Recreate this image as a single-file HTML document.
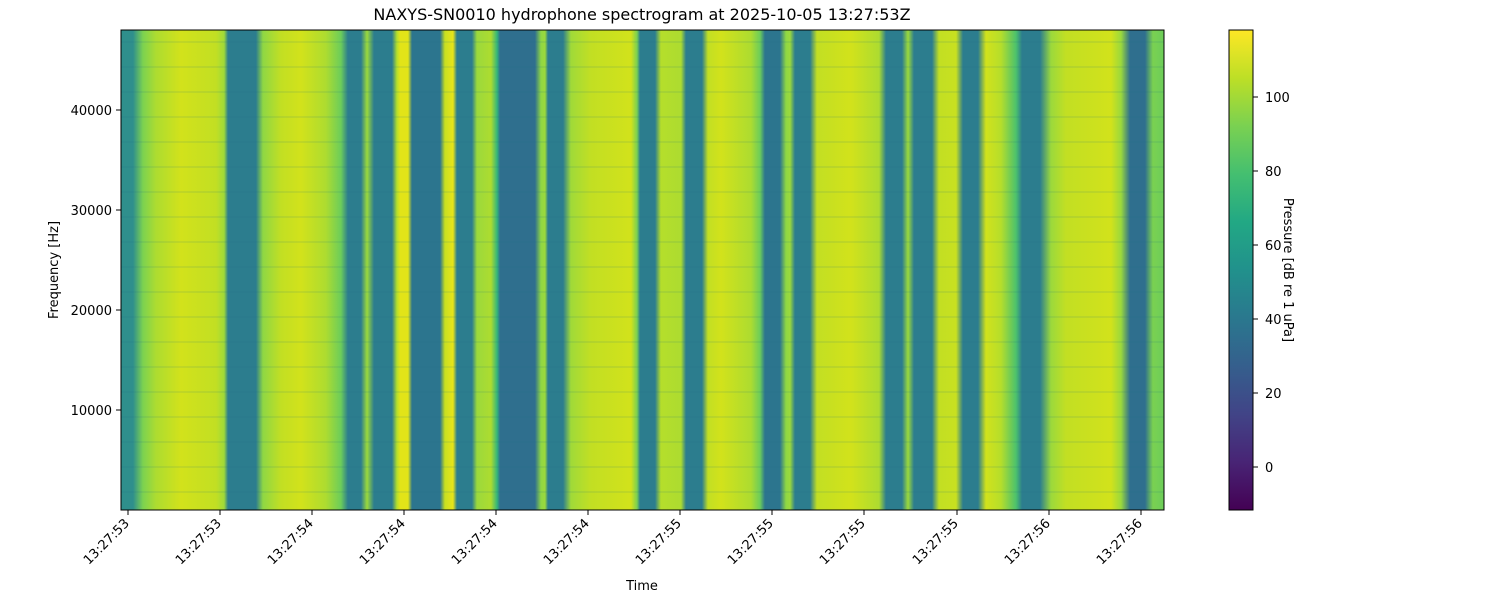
<!DOCTYPE html>
<html><head><meta charset="utf-8"><style>
html,body{margin:0;padding:0;background:#fff;}
svg{display:block;font-family:"DejaVu Sans","Liberation Sans",sans-serif;}
</style></head><body>
<svg width="1500" height="600" viewBox="0 0 1500 600" xmlns="http://www.w3.org/2000/svg">
<defs>
<linearGradient id="spec" gradientUnits="userSpaceOnUse" x1="121" y1="0" x2="1164" y2="0">
<stop offset="0" stop-color="#2f8f8c"/><stop offset="0.0115" stop-color="#2f8f8c"/>
<stop offset="0.0211" stop-color="#7cd250"/><stop offset="0.0336" stop-color="#addc30"/>
<stop offset="0.0575" stop-color="#d2e21b"/><stop offset="0.0911" stop-color="#c2df23"/>
<stop offset="0.0988" stop-color="#a0da39"/><stop offset="0.1026" stop-color="#2c7d8e"/>
<stop offset="0.1294" stop-color="#2c7d8e"/><stop offset="0.1361" stop-color="#8fd744"/>
<stop offset="0.1534" stop-color="#c2df23"/><stop offset="0.1726" stop-color="#d2e21b"/>
<stop offset="0.1965" stop-color="#addc30"/><stop offset="0.2109" stop-color="#6ccd5a"/>
<stop offset="0.2176" stop-color="#2c7d8e"/><stop offset="0.2301" stop-color="#2c7d8e"/>
<stop offset="0.2359" stop-color="#9bd93c"/><stop offset="0.2426" stop-color="#2c7d8e"/>
<stop offset="0.2598" stop-color="#2c7d8e"/><stop offset="0.2646" stop-color="#b5de2b"/>
<stop offset="0.2675" stop-color="#e2e418"/><stop offset="0.2752" stop-color="#e2e418"/>
<stop offset="0.2790" stop-color="#2c758e"/><stop offset="0.3059" stop-color="#2c758e"/>
<stop offset="0.3106" stop-color="#c8e020"/><stop offset="0.3183" stop-color="#e8e419"/>
<stop offset="0.3221" stop-color="#2c7d8e"/><stop offset="0.3365" stop-color="#2c7d8e"/>
<stop offset="0.3413" stop-color="#9bd93c"/><stop offset="0.3547" stop-color="#addc30"/>
<stop offset="0.3605" stop-color="#35b779"/><stop offset="0.3634" stop-color="#2f6f8e"/>
<stop offset="0.3969" stop-color="#2f6f8e"/><stop offset="0.4027" stop-color="#8fd744"/>
<stop offset="0.4065" stop-color="#9bd93c"/><stop offset="0.4094" stop-color="#2c7d8e"/>
<stop offset="0.4238" stop-color="#2c7d8e"/><stop offset="0.4314" stop-color="#a0da39"/>
<stop offset="0.4506" stop-color="#c2df23"/><stop offset="0.4890" stop-color="#d2e21b"/>
<stop offset="0.4947" stop-color="#7ad151"/><stop offset="0.4976" stop-color="#2c7d8e"/>
<stop offset="0.5120" stop-color="#2c7d8e"/><stop offset="0.5177" stop-color="#b5de2b"/>
<stop offset="0.5369" stop-color="#addc30"/><stop offset="0.5417" stop-color="#2c7d8e"/>
<stop offset="0.5570" stop-color="#2c7d8e"/><stop offset="0.5628" stop-color="#c2df23"/>
<stop offset="0.5753" stop-color="#d2e21b"/><stop offset="0.6040" stop-color="#addc30"/>
<stop offset="0.6127" stop-color="#6ccd5a"/><stop offset="0.6174" stop-color="#2c758e"/>
<stop offset="0.6318" stop-color="#2c758e"/><stop offset="0.6376" stop-color="#8fd744"/>
<stop offset="0.6414" stop-color="#9bd93c"/><stop offset="0.6462" stop-color="#2c7d8e"/>
<stop offset="0.6606" stop-color="#2c7d8e"/><stop offset="0.6673" stop-color="#c2df23"/>
<stop offset="0.6999" stop-color="#d2e21b"/><stop offset="0.7268" stop-color="#addc30"/>
<stop offset="0.7335" stop-color="#2c7d8e"/><stop offset="0.7488" stop-color="#2c7d8e"/>
<stop offset="0.7546" stop-color="#9bd93c"/><stop offset="0.7603" stop-color="#2c7d8e"/>
<stop offset="0.7776" stop-color="#2c7d8e"/><stop offset="0.7843" stop-color="#c2df23"/>
<stop offset="0.8006" stop-color="#c8e020"/><stop offset="0.8073" stop-color="#2c7d8e"/>
<stop offset="0.8217" stop-color="#2c7d8e"/><stop offset="0.8293" stop-color="#d2e21b"/>
<stop offset="0.8437" stop-color="#b5de2b"/><stop offset="0.8581" stop-color="#4cc26c"/>
<stop offset="0.8639" stop-color="#2c7d8e"/><stop offset="0.8811" stop-color="#2c7d8e"/>
<stop offset="0.8917" stop-color="#9bd93c"/><stop offset="0.9060" stop-color="#c2df23"/>
<stop offset="0.9492" stop-color="#d2e21b"/><stop offset="0.9588" stop-color="#9bd93c"/>
<stop offset="0.9674" stop-color="#2f6f8e"/><stop offset="0.9818" stop-color="#2f6f8e"/>
<stop offset="0.9894" stop-color="#7ad151"/><stop offset="1" stop-color="#6ccd5a"/>
</linearGradient>
<pattern id="stripes" patternUnits="userSpaceOnUse" x="0" y="30" width="1043" height="25">
<rect x="0" y="11" width="1043" height="2" fill="#1f6f80" opacity="0.1"/>
</pattern>
<linearGradient id="vir" x1="0" y1="1" x2="0" y2="0">
<stop offset="0" stop-color="#440154"/><stop offset="0.1" stop-color="#482475"/>
<stop offset="0.2" stop-color="#414487"/><stop offset="0.3" stop-color="#355f8d"/>
<stop offset="0.4" stop-color="#2a788e"/><stop offset="0.5" stop-color="#21918c"/>
<stop offset="0.6" stop-color="#22a884"/><stop offset="0.7" stop-color="#44bf70"/>
<stop offset="0.8" stop-color="#7ad151"/><stop offset="0.9" stop-color="#bddf26"/>
<stop offset="1" stop-color="#fde725"/>
</linearGradient>
</defs>
<text x="642" y="20" font-size="16" text-anchor="middle">NAXYS-SN0010 hydrophone spectrogram at 2025-10-05 13:27:53Z</text>
<rect x="121" y="30" width="1043" height="480" fill="url(#spec)"/>
<rect x="121" y="30" width="1043" height="480" fill="url(#stripes)"/>
<rect x="121" y="30" width="1043" height="480" fill="none" stroke="#000" stroke-width="1"/>
<g font-size="13" text-anchor="end" fill="#000">
<line x1="116" y1="110" x2="121" y2="110" stroke="#000"/><text x="112" y="115">40000</text>
<line x1="116" y1="210" x2="121" y2="210" stroke="#000"/><text x="112" y="215">30000</text>
<line x1="116" y1="310" x2="121" y2="310" stroke="#000"/><text x="112" y="315">20000</text>
<line x1="116" y1="410" x2="121" y2="410" stroke="#000"/><text x="112" y="415">10000</text>
</g>
<text transform="translate(58,270) rotate(-90)" font-size="13" text-anchor="middle">Frequency [Hz]</text>
<g font-size="13" text-anchor="end">
<g transform="translate(128,510)"><line y1="0" y2="5" stroke="#000"/><text transform="translate(2,14) rotate(-45)">13:27:53</text></g>
<g transform="translate(220,510)"><line y1="0" y2="5" stroke="#000"/><text transform="translate(2,14) rotate(-45)">13:27:53</text></g>
<g transform="translate(312,510)"><line y1="0" y2="5" stroke="#000"/><text transform="translate(2,14) rotate(-45)">13:27:54</text></g>
<g transform="translate(404,510)"><line y1="0" y2="5" stroke="#000"/><text transform="translate(2,14) rotate(-45)">13:27:54</text></g>
<g transform="translate(496,510)"><line y1="0" y2="5" stroke="#000"/><text transform="translate(2,14) rotate(-45)">13:27:54</text></g>
<g transform="translate(588,510)"><line y1="0" y2="5" stroke="#000"/><text transform="translate(2,14) rotate(-45)">13:27:54</text></g>
<g transform="translate(680,510)"><line y1="0" y2="5" stroke="#000"/><text transform="translate(2,14) rotate(-45)">13:27:55</text></g>
<g transform="translate(772,510)"><line y1="0" y2="5" stroke="#000"/><text transform="translate(2,14) rotate(-45)">13:27:55</text></g>
<g transform="translate(864,510)"><line y1="0" y2="5" stroke="#000"/><text transform="translate(2,14) rotate(-45)">13:27:55</text></g>
<g transform="translate(957,510)"><line y1="0" y2="5" stroke="#000"/><text transform="translate(2,14) rotate(-45)">13:27:55</text></g>
<g transform="translate(1049,510)"><line y1="0" y2="5" stroke="#000"/><text transform="translate(2,14) rotate(-45)">13:27:56</text></g>
<g transform="translate(1141,510)"><line y1="0" y2="5" stroke="#000"/><text transform="translate(2,14) rotate(-45)">13:27:56</text></g>
</g>
<text x="642" y="590" font-size="13" text-anchor="middle">Time</text>
<rect x="1229" y="30" width="24" height="480" fill="url(#vir)" stroke="#000" stroke-width="1"/>
<g font-size="13">
<line x1="1253" y1="467" x2="1258" y2="467" stroke="#000"/><text x="1265" y="472">0</text>
<line x1="1253" y1="393" x2="1258" y2="393" stroke="#000"/><text x="1265" y="398">20</text>
<line x1="1253" y1="319" x2="1258" y2="319" stroke="#000"/><text x="1265" y="324">40</text>
<line x1="1253" y1="245" x2="1258" y2="245" stroke="#000"/><text x="1265" y="250">60</text>
<line x1="1253" y1="171" x2="1258" y2="171" stroke="#000"/><text x="1265" y="176">80</text>
<line x1="1253" y1="97" x2="1258" y2="97" stroke="#000"/><text x="1265" y="102">100</text>
</g>
<text transform="translate(1284,270) rotate(90)" font-size="13" text-anchor="middle">Pressure [dB re 1 uPa]</text>
</svg>
</body></html>
